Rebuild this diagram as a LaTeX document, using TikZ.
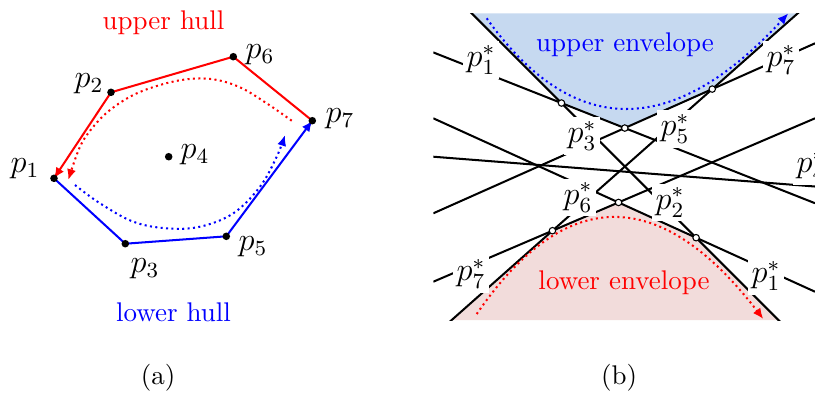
\documentclass[tikz,border=0pt]{standalone}
\usetikzlibrary{arrows.meta}
\definecolor{envblue}{RGB}{198,217,240}
\definecolor{envpink}{RGB}{242,220,219}
\begin{document}
\begin{tikzpicture}[x=0.3704pt,y=-0.3704pt,
  hull/.style={line width=0.75pt},
  dual/.style={line width=0.75pt,black},
  dotc/.style={line width=0.75pt,dash pattern=on 0.75pt off 1.25pt},
  tip/.style={-{Latex[length=4pt,width=3.4pt]}},
  pt/.style={circle,fill=black,inner sep=0pt,minimum size=2.8pt},
  vx/.style={circle,draw=black,fill=white,line width=0.4pt,inner sep=0pt,minimum size=2.4pt},
  lab/.style={font=\large},
  dlab/.style={font=\large,fill=white,inner sep=1.5pt},
  txt/.style={font=\normalsize}]
\useasboundingbox (0,0) rectangle (815,393);

% ---------- (a) ----------
\coordinate (p1) at (54,178.3);
\coordinate (p2) at (111,92.3);
\coordinate (p3) at (125.3,243.7);
\coordinate (p4) at (168.7,156.7);
\coordinate (p5) at (226.3,236.3);
\coordinate (p6) at (233.3,56.7);
\coordinate (p7) at (312.3,120.7);

\draw[hull,red,tip] (p7) -- (p6) -- (p2) -- (p1);
\draw[hull,blue,tip] (p1) -- (p3) -- (p5) -- (p7);

\draw[dotc,red,tip] plot[smooth,tension=0.6] coordinates {(291.7,120.7) (266.7,103.3) (240,87.3) (213.3,79.3) (186.7,79.3) (160,85) (133.3,95) (110,110) (93.3,126.7) (80,146.7) (68.3,180)};
\draw[dotc,blue,tip] plot[smooth,tension=0.6] coordinates {(75,185) (100,203.3) (133.3,221.7) (166.7,228.3) (200,226.7) (233.3,213.3) (260,186.7) (276.7,156.7) (285,135)};

\foreach \i in {1,...,7} { \node[pt] (n\i) at (p\i) {}; }

\node[lab] (l1) at (25,169) {$p_1$};
\node[lab] (l2) at (89,84) {$p_2$};
\node[lab] (l3) at (145,269) {$p_3$};
\node[lab] (l4) at (195,155) {$p_4$};
\node[lab] (l5) at (253,247) {$p_5$};
\node[lab] (l6) at (260,55) {$p_6$};
\node[lab] (l7) at (340,119) {$p_7$};

\node[txt,red] (uh) at (163.5,23) {upper hull};
\node[txt,blue] (lh) at (173.5,312) {lower hull};

% ---------- (b) ----------
\coordinate (tl) at (433.3,13.3);
\coordinate (tr) at (815,13.3);
\coordinate (bl) at (433.3,320);
\coordinate (br) at (815,320);

\coordinate (a1) at (433.3,-25.1);  \coordinate (a2) at (815,356.6);
\coordinate (d1) at (433.3,336.3);  \coordinate (d2) at (815,-2.0);
\coordinate (b1) at (433.3,52.4);   \coordinate (b2) at (815,203.2);
\coordinate (c1) at (433.3,213.3);  \coordinate (c2) at (815,43.3);
\coordinate (e1) at (433.3,281.7);  \coordinate (e2) at (815,118.3);
\coordinate (f1) at (433.3,118.3);  \coordinate (f2) at (815,291.7);
\coordinate (g1) at (433.3,156.7);  \coordinate (g2) at (815,186.5);

\coordinate (u1) at (intersection of a1--a2 and b1--b2);
\coordinate (u2) at (intersection of b1--b2 and c1--c2);
\coordinate (u3) at (intersection of c1--c2 and d1--d2);
\coordinate (w1) at (intersection of d1--d2 and e1--e2);
\coordinate (w2) at (intersection of e1--e2 and f1--f2);
\coordinate (w3) at (intersection of f1--f2 and a1--a2);
\coordinate (ua) at (intersection of a1--a2 and tl--tr);
\coordinate (ud) at (intersection of d1--d2 and tl--tr);
\coordinate (wd) at (intersection of d1--d2 and bl--br);
\coordinate (wa) at (intersection of a1--a2 and bl--br);

\fill[envblue] (ua) -- (u1) -- (u2) -- (u3) -- (ud) -- cycle;
\fill[envpink] (wd) -- (w1) -- (w2) -- (w3) -- (wa) -- cycle;

\begin{scope}
\clip (tl) rectangle (br);
\draw[dual] (a1) -- (a2);
\draw[dual] (d1) -- (d2);
\draw[dual] (b1) -- (b2);
\draw[dual] (c1) -- (c2);
\draw[dual] (e1) -- (e2);
\draw[dual] (f1) -- (f2);
\draw[dual] (g1) -- (g2);
\end{scope}

\draw[dotc,blue,tip] (486.7,18.3) .. controls (573.3,139.7) and (673.7,138) .. (788.3,13.3);
\draw[dotc,red,tip] (476.7,314) .. controls (565.7,184) and (661.1,186) .. (763.3,319);

\node[dlab] (q1u) at (481,60) {$p_1^*$};
\node[dlab] (q7u) at (781,60) {$p_7^*$};
\node[dlab] (q3) at (582,136) {$p_3^*$};
\node[dlab] (q5) at (675,129) {$p_5^*$};
\node[dlab] (q6) at (578,197.5) {$p_6^*$};
\node[dlab] (q2) at (670,202.5) {$p_2^*$};
\node[dlab] (q7l) at (471,274) {$p_7^*$};
\node[dlab] (q1l) at (766,276) {$p_1^*$};
\node[dlab] (q4) at (811,166) {$p_4^*$};

\foreach \v in {u1,u2,u3,w1,w2,w3} { \node[vx] (v\v) at (\v) {}; }

\node[txt,blue] (ue) at (625,45) {upper envelope};
\node[txt,red] (le) at (624,283) {lower envelope};

\node[txt] (ca) at (158,378) {(a)};
\node[txt] (cb) at (619,378) {(b)};
\end{tikzpicture}
\end{document}
